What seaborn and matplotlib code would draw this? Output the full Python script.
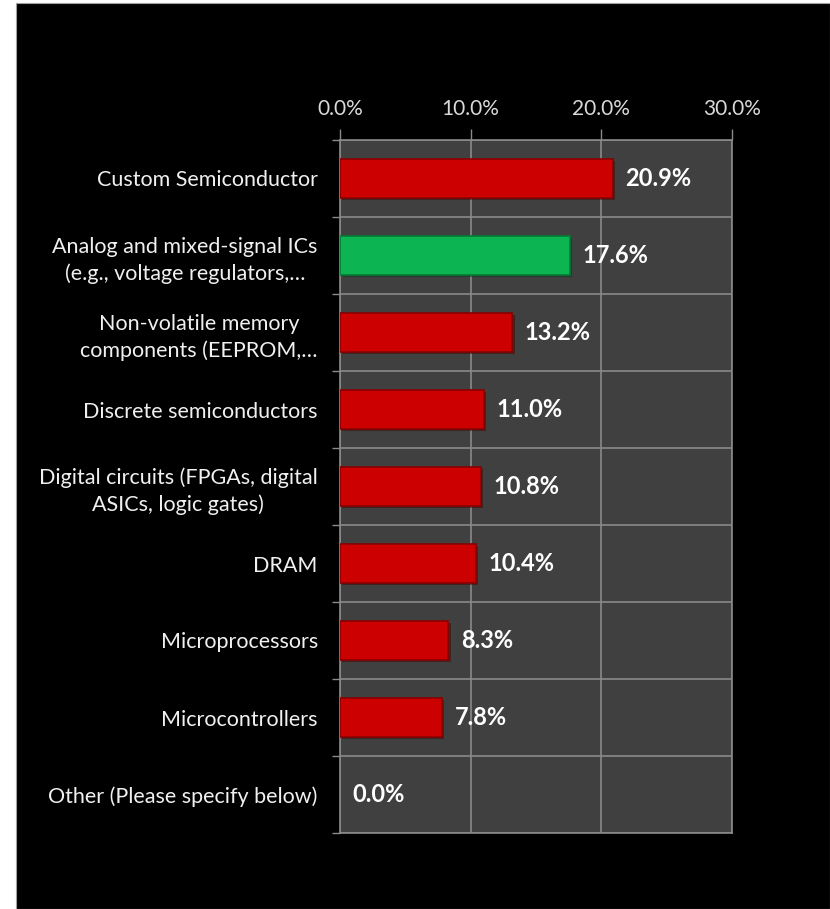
import matplotlib
matplotlib.use("Agg")
import matplotlib.pyplot as plt
import matplotlib.patheffects as pe
import seaborn as sns
import pandas as pd
from matplotlib.patches import Rectangle
from matplotlib.ticker import FixedLocator, PercentFormatter

categories = [
    "Custom Semiconductor",
    "Analog and mixed-signal ICs\n(e.g., voltage regulators,…",
    "Non-volatile memory\ncomponents (EEPROM,…",
    "Discrete semiconductors",
    "Digital circuits (FPGAs, digital\nASICs, logic gates)",
    "DRAM",
    "Microprocessors",
    "Microcontrollers",
    "Other (Please specify below)",
]
values = [20.9, 17.6, 13.2, 11.0, 10.8, 10.4, 8.3, 7.8, 0.0]
value_labels = ["20.9%", "17.6%", "13.2%", "11.0%", "10.8%", "10.4%", "8.3%", "7.8%", "0.0%"]
bar_colors = ["#cc0000", "#0cb552", "#cc0000", "#cc0000", "#cc0000",
              "#cc0000", "#cc0000", "#cc0000", "#cc0000"]
edge_colors = ["#8a0000", "#067a36", "#8a0000", "#8a0000", "#8a0000",
               "#8a0000", "#8a0000", "#8a0000", "#8a0000"]
x_ticks = [0, 10, 20, 30]

sns.set_style("dark")
plt.rcParams['font.family'] = ['Lato', 'DejaVu Sans']

df = pd.DataFrame({"category": categories, "value": values})
palette = dict(zip(categories, bar_colors))

fig = plt.figure(figsize=(8.30, 9.09), dpi=100, facecolor="white")
fig.patches.append(Rectangle((16/830, 0), 1 - 16/830, 1 - 3/909,
                             transform=fig.transFigure, facecolor="black",
                             edgecolor="#a0a0a0", linewidth=0.8, zorder=-10))
ax = fig.add_axes([340/830, 1 - 833/909, (732-340)/830, (833-140)/909])
ax.set_facecolor("#404040")

sns.barplot(data=df, y="category", x="value", hue="category", palette=palette,
            orient="h", width=0.5, legend=False, ax=ax, saturation=1,
            linewidth=1.2, zorder=3)

for patch, ec, v in zip(ax.patches, edge_colors, values):
    patch.set_edgecolor(ec)
    patch.set_path_effects([pe.SimplePatchShadow(offset=(1.5, -1.5), alpha=0.45),
                            pe.Normal()])
    if v == 0:
        patch.set_linewidth(0)

for i, (v, lab) in enumerate(zip(values, value_labels)):
    ax.annotate(lab, xy=(v, i), xytext=(9, 0), textcoords="offset points",
                va="center", ha="left", color="white", fontsize=17,
                fontweight="bold", zorder=5)

ax.set_xlim(0, 30)
ax.set_ylim(len(categories) - 0.5, -0.5)
ax.xaxis.set_major_locator(FixedLocator(x_ticks))
ax.xaxis.set_major_formatter(PercentFormatter(decimals=1))
ax.xaxis.tick_top()
ax.tick_params(axis="x", which="major", top=True, bottom=False, length=8,
               width=1, color="#8a8a8a", labelcolor="#d9d9d9", labelsize=15, pad=7)

ax.yaxis.set_minor_locator(FixedLocator([i - 0.5 for i in range(len(categories) + 1)]))
ax.tick_params(axis="y", which="major", length=0, labelcolor="#f0f0f0",
               labelsize=15.5, pad=16)
ax.tick_params(axis="y", which="minor", left=True, length=6, width=1, color="#8a8a8a")
for t in ax.get_yticklabels():
    t.set_multialignment("center")
    t.set_linespacing(1.38)

ax.grid(False)
ax.grid(True, axis="x", which="major", color="#8a8a8a", linewidth=1.2, zorder=0)
ax.grid(True, axis="y", which="minor", color="#8a8a8a", linewidth=1.2, zorder=0)
ax.set_axisbelow(True)
for s in ax.spines.values():
    s.set_visible(True)
    s.set_color("#8a8a8a")
    s.set_linewidth(1.2)
ax.set_xlabel("")
ax.set_ylabel("")

fig.savefig("out.png", dpi=100, facecolor=fig.get_facecolor())
